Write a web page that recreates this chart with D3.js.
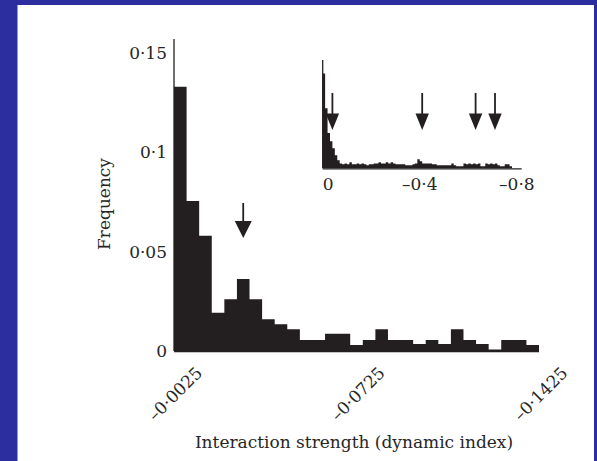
<!DOCTYPE html>
<html><head><meta charset="utf-8">
<script src="https://cdn.jsdelivr.net/npm/d3@7"></script>
<style>html,body{margin:0;padding:0;background:#2c2d9e;}svg{display:block}</style>
</head><body>
<script>
// ---- data ----
const binWidth = 0.005;            // main histogram bin width (dynamic index units)
const mainFreq = [0.133,0.0755,0.058,0.0193,0.026,0.0362,0.026,0.016,0.0135,0.011,
  0.0055,0.0055,0.0087,0.0087,0.003,0.0055,0.011,0.0055,0.0055,0.0035,
  0.0055,0.0035,0.011,0.0055,0.0035,0.0008,0.0055,0.0055,0.003];
const yTicks = [0, 0.05, 0.1, 0.15];
const yTickLabels = ["0","0·05","0·1","0·15"];
const xTickValues = [-0.0025, -0.0725, -0.1425];
const xTickLabels = ["–0·0025","–0·0725","–0·1425"];
const mainArrow = [-0.0275];

const insetBinWidth = 0.01;
const insetFreq = [0.175,0.111,0.065,0.05,0.037,0.024,0.015,0.009,0.0074,0.009,
  0.0074,0.011,0.0074,0.0074,0.009,0.0074,0.009,0.0074,0.0055,0.0074,
  0.0074,0.009,0.009,0.011,0.009,0.009,0.011,0.009,0.011,0.009,
  0.0074,0.0074,0.0074,0.0074,0.0055,0.0055,0.0055,0.0074,0.009,0.0166,
  0.013,0.009,0.009,0.009,0.009,0.0074,0.0074,0.0055,0.0055,0.0055,
  0.0055,0.0055,0.0055,0.009,0.0055,0.0037,0.0037,0.0037,0.009,0.0074,
  0.009,0.0074,0.009,0.0074,0.009,0.0037,0.0037,0.009,0.0074,0.009,
  0.0074,0.009,0.0055,0.0037,0.0037,0.0074,0.0074,0.0037];
const insetTicks = [0, -0.4, -0.8];
const insetTickLabels = ["0","–0·4","–0·8"];
const insetArrows = [-0.04, -0.41, -0.63, -0.71];

// ---- layout ----
const W = 597, H = 461;
const font = "'DejaVu Serif', serif";
const ink = "#231f20";
const txt = "#262626";
const svg = d3.select("body").append("svg").attr("width", W).attr("height", H);

svg.append("rect").attr("x",0).attr("y",0).attr("width",W).attr("height",H).attr("fill","#2c2d9e");
svg.append("rect").attr("x",17.5).attr("y",5).attr("width",576.5).attr("height",H-5).attr("fill","#ffffff");

// step-outline helper: histogram drawn as one filled path (no seams)
function histPath(vals, bw, xs, ys){
  let p = `M${xs(0)},${ys(0)}`;
  vals.forEach((v,i)=>{ p += `L${xs(-i*bw)},${ys(v)}L${xs(-(i+1)*bw)},${ys(v)}`; });
  p += `L${xs(-vals.length*bw)},${ys(0)}Z`;
  return p;
}

const nMain = mainFreq.length;
const x = d3.scaleLinear().domain([0, -binWidth*nMain]).range([174, 539]);
const y = d3.scaleLinear().domain([0, 0.15]).range([351, 53]);

svg.append("path").attr("d", histPath(mainFreq, binWidth, x, y)).attr("fill", ink);

// axes lines
svg.append("line").attr("x1",x(0)).attr("x2",x(0)).attr("y1",y(0)).attr("y2",y(0.157))
  .attr("stroke",ink).attr("stroke-width",1.3);
svg.append("line").attr("x1",x(0)).attr("x2",x(-binWidth*nMain)).attr("y1",y(0)+0.5).attr("y2",y(0)+0.5)
  .attr("stroke",ink).attr("stroke-width",1.3);

// y tick labels
svg.append("g").selectAll("text").data(yTicks).join("text")
  .attr("x",167).attr("y",d=>y(d)).attr("dy","0.36em")
  .attr("text-anchor","end").attr("font-family",font).attr("font-size",17).attr("fill",txt)
  .text((d,i)=>yTickLabels[i]);

// x tick labels (rotated)
const xt = d3.scaleLinear().domain([xTickValues[0], xTickValues[2]]).range([x(xTickValues[0])+23, x(xTickValues[2])+36]);
svg.append("g").selectAll("text").data(xTickValues).join("text")
  .attr("transform", d=>`translate(${xt(d)},374) rotate(-45)`)
  .attr("text-anchor","end").attr("font-family",font).attr("font-size",17).attr("fill",txt)
  .text((d,i)=>xTickLabels[i]);

// axis titles
svg.append("text").attr("x",354).attr("y",448).attr("text-anchor","middle")
  .attr("font-family",font).attr("font-size",17).attr("fill",txt)
  .text("Interaction strength (dynamic index)");
svg.append("text").attr("transform","translate(109.5,204) rotate(-90)").attr("text-anchor","middle")
  .attr("font-family",font).attr("font-size",17).attr("fill",txt)
  .text("Frequency");

// arrow helper
function arrow(g, cx, yTop, yHead, yTip, half){
  g.append("line").attr("x1",cx).attr("x2",cx).attr("y1",yTop).attr("y2",yHead+1)
    .attr("stroke",ink).attr("stroke-width",1.8);
  g.append("path").attr("d",`M${cx-half},${yHead}L${cx+half},${yHead}L${cx},${yTip}Z`).attr("fill",ink);
}
mainArrow.forEach(v=>arrow(svg, x(v), 203, 221, 238, 8.5));

// ---- inset ----
const xi = d3.scaleLinear().domain([0, -0.82]).range([322.7, 521.7]);
const yi = d3.scaleLinear().domain([0, 0.2]).range([168.3, 60]);
svg.append("path").attr("d", histPath(insetFreq, insetBinWidth, xi, yi)).attr("fill", ink);
svg.append("line").attr("x1",xi(0)).attr("x2",xi(0)).attr("y1",yi(0)).attr("y2",yi(0.2))
  .attr("stroke",ink).attr("stroke-width",1.3);
svg.append("line").attr("x1",xi(0)).attr("x2",xi(-0.82)).attr("y1",yi(0)+0.5).attr("y2",yi(0)+0.5)
  .attr("stroke",ink).attr("stroke-width",1.3);
svg.append("g").selectAll("text").data(insetTicks).join("text")
  .attr("x",d=>xi(d)).attr("y",190)
  .attr("text-anchor",(d,i)=>i===0?"start":"middle")
  .attr("font-family",font).attr("font-size",17).attr("fill",txt)
  .text((d,i)=>insetTickLabels[i]);
insetArrows.forEach(v=>arrow(svg, xi(v), 93, 113.5, 130, 6.7));
</script>
</body></html>
